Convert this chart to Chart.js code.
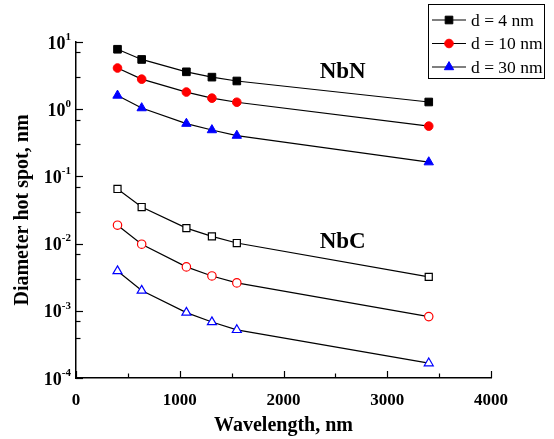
<!DOCTYPE html>
<html>
<head>
<meta charset="utf-8">
<script src="https://cdn.jsdelivr.net/npm/chart.js@4.4.0/dist/chart.umd.min.js"></script>
<style>
  html, body { margin: 0; padding: 0; background: #fff; }
</style>
</head>
<body>
<canvas id="spotChart" width="554" height="439"></canvas>
<script>
// wavelengths, nm
const wavelengths = [400, 633, 1064, 1310, 1550, 3400];

// hot spot diameter, nm
const nbn4 = [7.8, 5.5, 3.6, 3.0, 2.63, 1.28];
const nbn10 = [4.1, 2.8, 1.8, 1.46, 1.27, 0.56];
const nbn30 = [1.6, 1.04, 0.61, 0.49, 0.405, 0.163];
const nbc4 = [0.065, 0.035, 0.017, 0.0128, 0.0102, 0.0032];
const nbc10 = [0.0188, 0.0098, 0.0045, 0.0033, 0.0026, 0.00082];
const nbc30 = [0.0039, 0.002, 0.00094, 0.00068, 0.00052, 0.000166];

const legendLabels = ['d = 4 nm', 'd = 10 nm', 'd = 30 nm'];
const xTicks = [0, 1000, 2000, 3000, 4000];
const xMinorTicks = [500, 1500, 2500, 3500];
const yExponents = [1, 0, -1, -2, -3, -4];

const serif = 'Liberation Serif';

function points(vals) {
    return wavelengths.map((w, i) => ({ x: w, y: vals[i] }));
}

function series(vals, style, color, filled, radius) {
    return {
        data: points(vals),
        showLine: true,
        borderColor: '#000',
        borderWidth: 1.2,
        pointStyle: style,
        pointRadius: radius,
        pointBorderColor: color,
        pointBackgroundColor: filled ? color : '#fff',
        pointBorderWidth: filled ? 1 : 1.2
    };
}

const datasets = [
    series(nbn4, 'rect', '#000', true, 5.4),
    series(nbn10, 'circle', '#ff0000', true, 4.3),
    series(nbn30, 'triangle', '#0000ff', true, 5.4),
    series(nbc4, 'rect', '#000', false, 5),
    series(nbc10, 'circle', '#ff0000', false, 4.2),
    series(nbc30, 'triangle', '#0000ff', false, 5.2)
];

// ticks point inward, tick labels on the log axis need superscripts
const axisDecor = {
    id: 'axisDecor',
    afterDraw(chart) {
        const { ctx, chartArea, scales: { x, y } } = chart;
        ctx.save();
        ctx.strokeStyle = '#000';
        ctx.lineWidth = 1.2;
        y.ticks.forEach(t => {
            const e = Math.log10(t.value);
            const major = Math.abs(e - Math.round(e)) < 1e-6;
            const py = Math.round(y.getPixelForValue(t.value)) + 0.5;
            ctx.beginPath();
            ctx.moveTo(chartArea.left, py);
            ctx.lineTo(chartArea.left + (major ? 7 : 4.5), py);
            ctx.stroke();
        });
        xTicks.concat(xMinorTicks).forEach(v => {
            const major = xTicks.includes(v);
            const px = Math.round(x.getPixelForValue(v)) + 0.5;
            ctx.beginPath();
            ctx.moveTo(px, chartArea.bottom);
            ctx.lineTo(px, chartArea.bottom - (major ? 7 : 4.5));
            ctx.stroke();
        });

        // y tick labels 10^n
        ctx.fillStyle = '#000';
        ctx.textBaseline = 'middle';
        ctx.textAlign = 'right';
        yExponents.forEach(e => {
            const py = y.getPixelForValue(Math.pow(10, e));
            const sup = String(e);
            ctx.font = 'bold 11px ' + serif;
            const sw = ctx.measureText(sup).width;
            ctx.fillText(sup, 71, py - 5);
            ctx.font = 'bold 18px ' + serif;
            ctx.fillText('10', 71 - sw, py + 2);
        });

        // material labels
        ctx.textAlign = 'center';
        ctx.textBaseline = 'alphabetic';
        ctx.font = 'bold 23px ' + serif;
        ctx.fillText('NbN', x.getPixelForValue(2570), y.getPixelForValue(2.9));
        ctx.fillText('NbC', x.getPixelForValue(2570), y.getPixelForValue(0.0086));

        // legend box
        ctx.lineWidth = 1;
        ctx.strokeRect(428.5, 4.5, 116, 74);
        ctx.font = '17.5px ' + serif;
        ctx.textAlign = 'left';
        ctx.textBaseline = 'middle';
        legendLabels.forEach((label, i) => {
            const ds = chart.data.datasets[i];
            const ry = 20 + i * 23.5;
            ctx.strokeStyle = '#000';
            ctx.lineWidth = 1.2;
            ctx.beginPath();
            ctx.moveTo(432, ry);
            ctx.lineTo(466, ry);
            ctx.stroke();
            ctx.fillStyle = ds.pointBackgroundColor;
            ctx.strokeStyle = ds.pointBorderColor;
            ctx.lineWidth = 1;
            Chart.helpers.drawPoint(ctx, {
                pointStyle: ds.pointStyle,
                radius: ds.pointRadius,
                borderWidth: 1,
                rotation: 0
            }, 449, ry);
            ctx.fillStyle = '#000';
            ctx.fillText(label, 471, ry + 1);
        });
        ctx.restore();
    }
};

const ctx = document.getElementById('spotChart').getContext('2d');
const spotChart = new Chart(ctx, {
    type: 'scatter',
    data: { datasets: datasets },
    options: {
        responsive: false,
        animation: false,
        layout: { padding: { top: 42, right: 63, left: 0, bottom: 0 } },
        plugins: {
            legend: { display: false },
            tooltip: { enabled: false }
        },
        scales: {
            x: {
                type: 'linear',
                min: 0,
                max: 4000,
                afterBuildTicks: s => { s.ticks = xTicks.map(v => ({ value: v })); },
                ticks: {
                    color: '#000',
                    padding: 4,
                    maxRotation: 0,
                    callback: v => String(v),
                    font: { family: serif, weight: 'bold', size: 17 }
                },
                grid: { display: false },
                border: { color: '#000', width: 1.5 },
                title: {
                    display: true,
                    text: 'Wavelength, nm',
                    color: '#000',
                    font: { family: serif, weight: 'bold', size: 20 },
                    padding: { top: 0, bottom: 1 }
                },
                afterFit: s => { s.height = 61; }
            },
            y: {
                type: 'logarithmic',
                min: 1e-4,
                max: 10,
                ticks: { callback: () => '' },
                grid: { display: false },
                border: { color: '#000', width: 1.5 },
                title: {
                    display: true,
                    text: 'Diameter hot spot, nm',
                    color: '#000',
                    font: { family: serif, weight: 'bold', size: 20 },
                    padding: { top: 11, bottom: 0 }
                },
                afterFit: s => { s.width = 76; }
            }
        }
    },
    plugins: [axisDecor]
});
</script>
</body>
</html>
